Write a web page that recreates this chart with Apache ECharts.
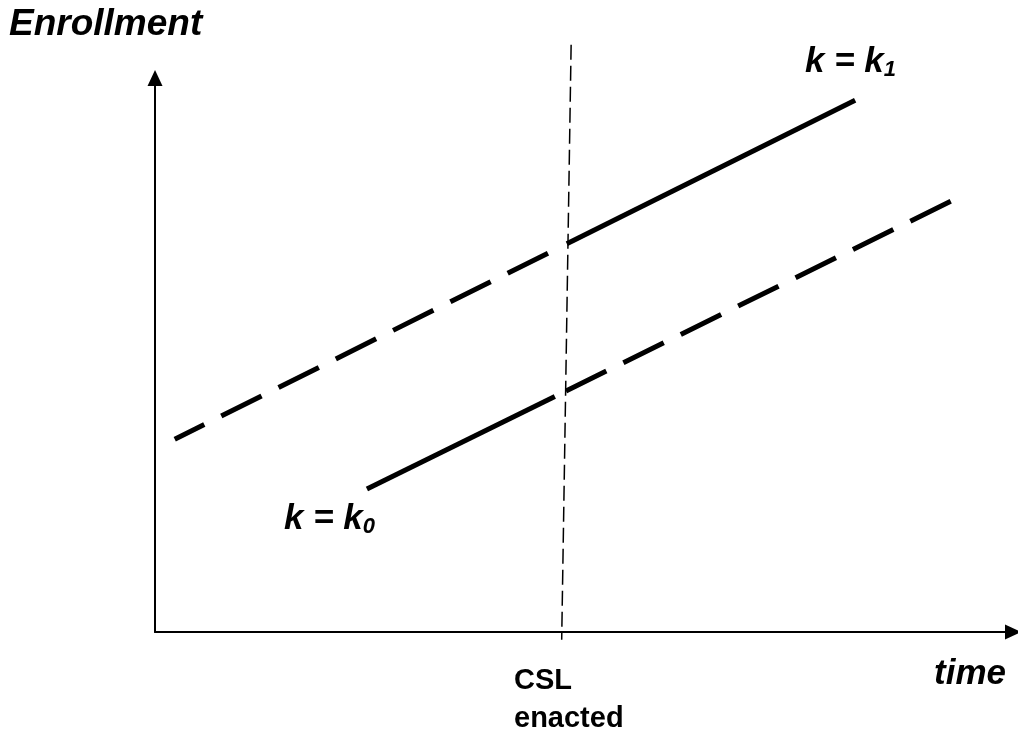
<!DOCTYPE html>
<html>
<head>
<meta charset="utf-8">
<script src="https://cdn.jsdelivr.net/npm/echarts@6/dist/echarts.min.js"></script>
<style>
html,body{margin:0;padding:0;background:#fff;}
#chart{width:1018px;height:742px;}
</style>
</head>
<body>
<div id="chart"></div>
<script>
// Logical axis ranges
const timeRange = [0, 100];
const enrollRange = [0, 100];

// k = k1 path: counterfactual (dashed) before CSL, actual (solid) after
const k1Before = [[2.3, 34.8], [47.0, 69.3]];
const k1After = [[48.0, 70.1], [81.6, 96.0]];
// k = k0 path: actual (solid) before CSL, counterfactual (dashed) after
const k0Before = [[24.7, 25.8], [46.6, 42.5]];
const k0After = [[47.9, 43.5], [92.8, 77.8]];
// CSL enacted marker
const cslLine = [[48.5, 106.0], [47.4, -1.4]];

const labelFont = '"Liberation Sans", Arial, sans-serif';

function seg(data, width, dash, offset) {
  return {
    type: 'line', data: data, clip: false, symbol: 'none', silent: true,
    lineStyle: {color: '#000', width: width, type: dash || 'solid', dashOffset: offset || 0, cap: 'butt'},
    animation: false
  };
}

const big = 'italic bold 35px ' + labelFont;
const sub = 'italic bold 22px ' + labelFont;

const chart = echarts.init(document.getElementById('chart'));
chart.setOption({
  backgroundColor: '#fff',
  animation: false,
  grid: {left: 155, right: 5, top: 78, bottom: 110},
  xAxis: {
    type: 'value', min: timeRange[0], max: timeRange[1],
    axisLine: {show: true, onZero: false, symbol: ['none', 'triangle'], symbolSize: [15, 16],
      lineStyle: {color: '#000', width: 2}},
    axisTick: {show: false}, axisLabel: {show: false}, splitLine: {show: false}
  },
  yAxis: {
    type: 'value', min: enrollRange[0], max: enrollRange[1],
    axisLine: {show: true, onZero: false, symbol: ['none', 'triangle'], symbolSize: [15, 16],
      lineStyle: {color: '#000', width: 2}},
    axisTick: {show: false}, axisLabel: {show: false}, splitLine: {show: false}
  },
  series: [
    seg(k1Before, 5, [45, 19], 12),
    seg(k1After, 5),
    seg(k0Before, 5),
    seg(k0After, 5, [45, 19], 0),
    seg(cslLine, 1.5, [15, 6], 0)
  ],
  graphic: [
    {type: 'text', left: 9, top: 6, style: {text: 'Enrollment', font: 'italic bold 37px ' + labelFont, fill: '#000'}},
    {type: 'text', left: 805, top: 45, style: {
      text: '{k|k = k}{s|1}', fill: '#000',
      rich: {k: {font: big, fill: '#000'}, s: {font: sub, fill: '#000', verticalAlign: 'bottom', padding: [14, 0, 0, 0]}}
    }},
    {type: 'text', left: 284, top: 502, style: {
      text: '{k|k = k}{s|0}', fill: '#000',
      rich: {k: {font: big, fill: '#000'}, s: {font: sub, fill: '#000', verticalAlign: 'bottom', padding: [14, 0, 0, 0]}}
    }},
    {type: 'text', left: 514, top: 662, style: {text: 'CSL\nenacted', font: 'bold 29px ' + labelFont, fill: '#000', lineHeight: 38, align: 'left'}},
    {type: 'text', left: 934, top: 657, style: {text: 'time', font: big, fill: '#000'}}
  ]
});
</script>
</body>
</html>
